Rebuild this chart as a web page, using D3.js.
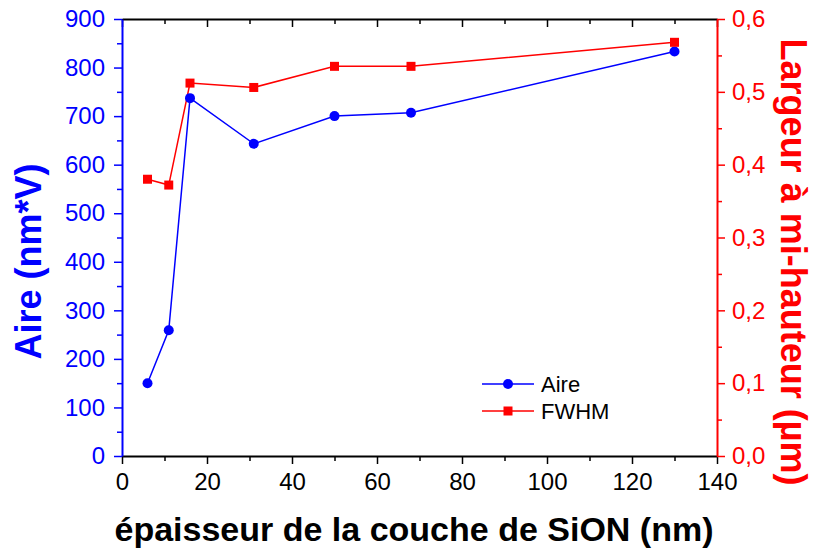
<!DOCTYPE html>
<html><head><meta charset="utf-8">
<script src="https://cdn.jsdelivr.net/npm/d3@7"></script>
<style>body{margin:0;background:#fff}svg{display:block}text{font-family:"Liberation Sans",Arial,sans-serif}</style>
</head><body>
<svg id="c" width="816" height="555"></svg>
<script>
const thickness = [6, 11, 16, 31, 50, 68, 130];
const aire = [150, 259, 737, 643, 700, 707, 833];
const fwhm = [0.380, 0.372, 0.512, 0.506, 0.535, 0.535, 0.568];
const xTicks = [0, 20, 40, 60, 80, 100, 120, 140];
const yLeftTicks = [0, 100, 200, 300, 400, 500, 600, 700, 800, 900];
const yRightTicks = [0, 0.1, 0.2, 0.3, 0.4, 0.5, 0.6];
const seriesNames = ["Aire", "FWHM"];

const svg = d3.select("#c");
const L = 122, R = 717, T = 19, B = 456;
const x = d3.scaleLinear().domain([0, 140]).range([L, R]);
const yl = d3.scaleLinear().domain([0, 900]).range([B, T]);
const yr = d3.scaleLinear().domain([0, 0.6]).range([B, T]);
const BLUE = "#0000ff", RED = "#ff0000";
const FS = 24;

function styleAxis(g, color, size) {
  g.selectAll("path").attr("stroke", color).attr("stroke-width", 2);
  g.selectAll("line").attr("stroke", color).attr("stroke-width", 1.5);
  g.selectAll("text").attr("fill", color).attr("font-size", size).attr("font-family", '"Liberation Sans",Arial,sans-serif');
}
const minorX = d3.range(10, 140, 20);
const minorL = d3.range(50, 900, 100);
const minorR = d3.range(0.05, 0.6, 0.1);

// bottom axis
const gb = svg.append("g").attr("transform", `translate(0,${B})`)
  .call(d3.axisBottom(x).tickValues(xTicks).tickSize(8).tickSizeOuter(0));
styleAxis(gb, "#000", FS);
gb.selectAll("text").attr("y", 34).attr("dy", "0");
svg.append("g").attr("transform", `translate(0,${B})`)
  .call(d3.axisBottom(x).tickValues(minorX).tickSize(5).tickFormat("").tickSizeOuter(0))
  .call(g => { g.select("path").remove(); g.selectAll("line").attr("stroke", "#000").attr("stroke-width", 1.5); });
// top axis
const gt = svg.append("g").attr("transform", `translate(0,${T})`)
  .call(d3.axisBottom(x).tickValues(xTicks).tickSize(8).tickFormat("").tickSizeOuter(0));
styleAxis(gt, "#000", FS);
svg.append("g").attr("transform", `translate(0,${T})`)
  .call(d3.axisBottom(x).tickValues(minorX).tickSize(5).tickFormat("").tickSizeOuter(0))
  .call(g => { g.select("path").remove(); g.selectAll("line").attr("stroke", "#000").attr("stroke-width", 1.5); });
// left axis
const gl = svg.append("g").attr("transform", `translate(${L},0)`)
  .call(d3.axisLeft(yl).tickValues(yLeftTicks).tickSize(8).tickPadding(9).tickSizeOuter(0));
styleAxis(gl, BLUE, FS);
svg.append("g").attr("transform", `translate(${L},0)`)
  .call(d3.axisLeft(yl).tickValues(minorL).tickSize(5).tickFormat("").tickSizeOuter(0))
  .call(g => { g.select("path").remove(); g.selectAll("line").attr("stroke", BLUE).attr("stroke-width", 1.5); });
// right axis
const fmt = d => d3.format(".1f")(d).replace(".", ",");
const gr = svg.append("g").attr("transform", `translate(${R},0)`)
  .call(d3.axisRight(yr).tickValues(yRightTicks).tickSize(8).tickPadding(7).tickFormat(fmt).tickSizeOuter(0));
styleAxis(gr, RED, FS);
svg.append("g").attr("transform", `translate(${R},0)`)
  .call(d3.axisRight(yr).tickValues(minorR).tickSize(5).tickFormat("").tickSizeOuter(0))
  .call(g => { g.select("path").remove(); g.selectAll("line").attr("stroke", RED).attr("stroke-width", 1.5); });

// lines
const dataA = thickness.map((t, i) => [t, aire[i]]);
const dataF = thickness.map((t, i) => [t, fwhm[i]]);
svg.append("path").datum(dataA).attr("fill", "none").attr("stroke", BLUE).attr("stroke-width", 1.5)
  .attr("d", d3.line().x(d => x(d[0])).y(d => yl(d[1])));
svg.append("path").datum(dataF).attr("fill", "none").attr("stroke", RED).attr("stroke-width", 1.5)
  .attr("d", d3.line().x(d => x(d[0])).y(d => yr(d[1])));
svg.selectAll(".ma").data(dataA).join("circle").attr("cx", d => x(d[0])).attr("cy", d => yl(d[1])).attr("r", 5).attr("fill", BLUE);
svg.selectAll(".mf").data(dataF).join("rect").attr("x", d => x(d[0]) - 4.5).attr("y", d => yr(d[1]) - 4.5).attr("width", 9).attr("height", 9).attr("fill", RED);

// legend
const lg = svg.append("g");
[[BLUE, 384, "c"], [RED, 411, "s"]].forEach(([c, yy, m], i) => {
  lg.append("line").attr("x1", 482).attr("x2", 534).attr("y1", yy).attr("y2", yy).attr("stroke", c).attr("stroke-width", 1.5);
  if (m === "c") lg.append("circle").attr("cx", 508).attr("cy", yy).attr("r", 5).attr("fill", c);
  else lg.append("rect").attr("x", 503.5).attr("y", yy - 4.5).attr("width", 9).attr("height", 9).attr("fill", c);
  lg.append("text").attr("x", 541).attr("y", yy).attr("dy", "0.36em").attr("font-size", 22).attr("fill", "#000").text(seriesNames[i]);
});

// titles
svg.append("text").attr("x", 414).attr("y", 541).attr("text-anchor", "middle")
  .attr("font-size", 34).attr("font-weight", "bold").attr("fill", "#000").text("épaisseur de la couche de SiON (nm)");
svg.append("text").attr("transform", `translate(41,${(T + B) / 2 + 24}) rotate(-90)`).attr("text-anchor", "middle")
  .attr("font-size", 36).attr("font-weight", "bold").attr("fill", BLUE).text("Aire (nm*V)");
svg.append("text").attr("transform", `translate(781,262) rotate(90)`).attr("text-anchor", "middle")
  .attr("font-size", 36).attr("font-weight", "bold").attr("fill", RED).text("Largeur à mi-hauteur (µm)");
</script>
</body></html>
